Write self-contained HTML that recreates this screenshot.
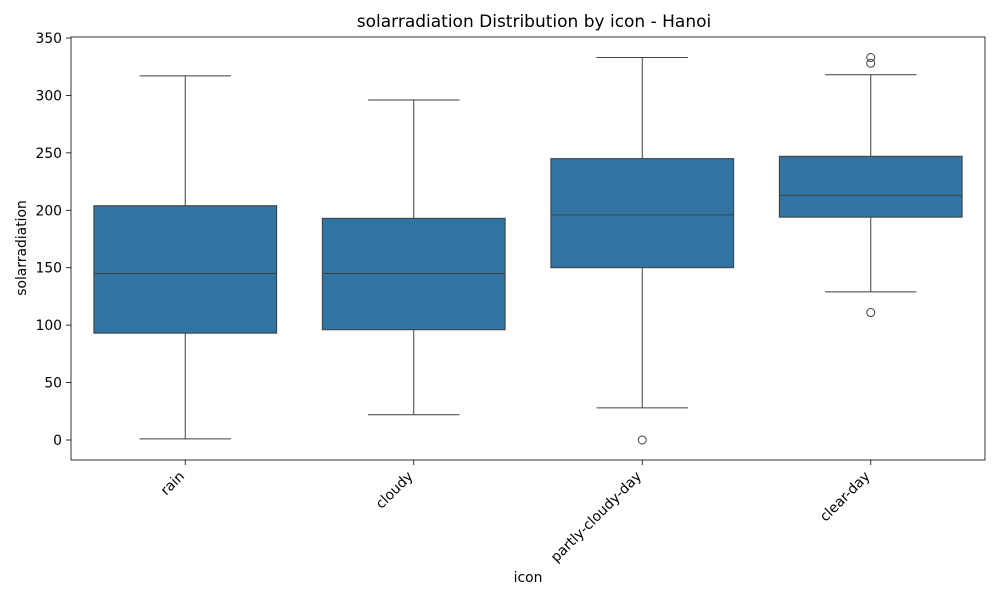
<!DOCTYPE html>
<html><head><meta charset="utf-8"><style>body{margin:0;background:#fff}svg{font-family:"DejaVu Sans","Liberation Sans",sans-serif}</style></head>
<body>
<svg id="chart" width="1000" height="600"></svg>
<script>
const categories=["rain","cloudy","partly-cloudy-day","clear-day"];
const whiskerLow=[1,22,28,129];
const q1=[93,96,150,194];
const medians=[145,145,196,213];
const q3=[204,193,245,247];
const whiskerHigh=[317,296,333,318];
const outliers=[[],[],[0],[333,328,111]];
const yTicks=[0,50,100,150,200,250,300,350];
const NS="http://www.w3.org/2000/svg";
const svg=document.getElementById('chart');
const L=71,R=985,T=37,B=460;
const y=v=>440-v*(402/350);
const step=(R-L)/categories.length;
const x=i=>L+step*(i+0.5);
function mk(t,a,p){const e=document.createElementNS(NS,t);for(const k in a)e.setAttribute(k,a[k]);(p||svg).appendChild(e);return e;}
const title=mk('text',{x:534,y:27,'text-anchor':'middle','font-size':17,fill:'#000'});


title.textContent='solarradiation Distribution by icon - Hanoi';
yTicks.forEach(v=>{
 const tk=mk('line',{x1:L-5,x2:L,y1:y(v),y2:y(v),stroke:'#000','stroke-width':0.8});
 
 
 const t=mk('text',{x:L-9,y:y(v)+5,'text-anchor':'end','font-size':13.9,fill:'#000'});
 
 
 t.textContent=v;
});
categories.forEach((c,i)=>{
 const cx=x(i),w=step*0.8;
 const g=mk('g',{});
 
 
 mk('line',{x1:cx,x2:cx,y1:y(whiskerLow[i]),y2:y(q1[i]),stroke:'#3f3f3f','stroke-width':1},g);
 mk('line',{x1:cx,x2:cx,y1:y(q3[i]),y2:y(whiskerHigh[i]),stroke:'#3f3f3f','stroke-width':1},g);
 mk('line',{x1:cx-w/4,x2:cx+w/4,y1:y(whiskerLow[i]),y2:y(whiskerLow[i]),stroke:'#3f3f3f'},g);
 mk('line',{x1:cx-w/4,x2:cx+w/4,y1:y(whiskerHigh[i]),y2:y(whiskerHigh[i]),stroke:'#3f3f3f'},g);
 mk('rect',{x:cx-w/2,y:y(q3[i]),width:w,height:y(q1[i])-y(q3[i]),fill:'#3274a1',stroke:'#3f3f3f'},g);
 mk('line',{x1:cx-w/2,x2:cx+w/2,y1:y(medians[i]),y2:y(medians[i]),stroke:'#3f3f3f'},g);
 outliers[i].forEach(v=>{
  const o=mk('circle',{cx:cx,cy:y(v),r:4,fill:'none',stroke:'#3f3f3f'},g);
  
  
 });
 mk('line',{x1:cx,x2:cx,y1:B,y2:B+5,stroke:'#000','stroke-width':0.8});
 const t=mk('text',{x:0,y:0,'text-anchor':'end','font-size':13.9,fill:'#000',transform:`translate(${cx},${B+17}) rotate(-45)`});
 
 
 t.textContent=c;
});
const fr=mk('rect',{x:L,y:T,width:R-L,height:B-T,fill:'none',stroke:'#000','stroke-width':0.8});


const xl=mk('text',{x:528,y:582,'text-anchor':'middle','font-size':13.9,fill:'#000'});


xl.textContent='icon';
const yl=mk('text',{x:0,y:0,'text-anchor':'middle','font-size':13.9,fill:'#000',transform:'translate(26,248) rotate(-90)'});


yl.textContent='solarradiation';
</script>
</body></html>
